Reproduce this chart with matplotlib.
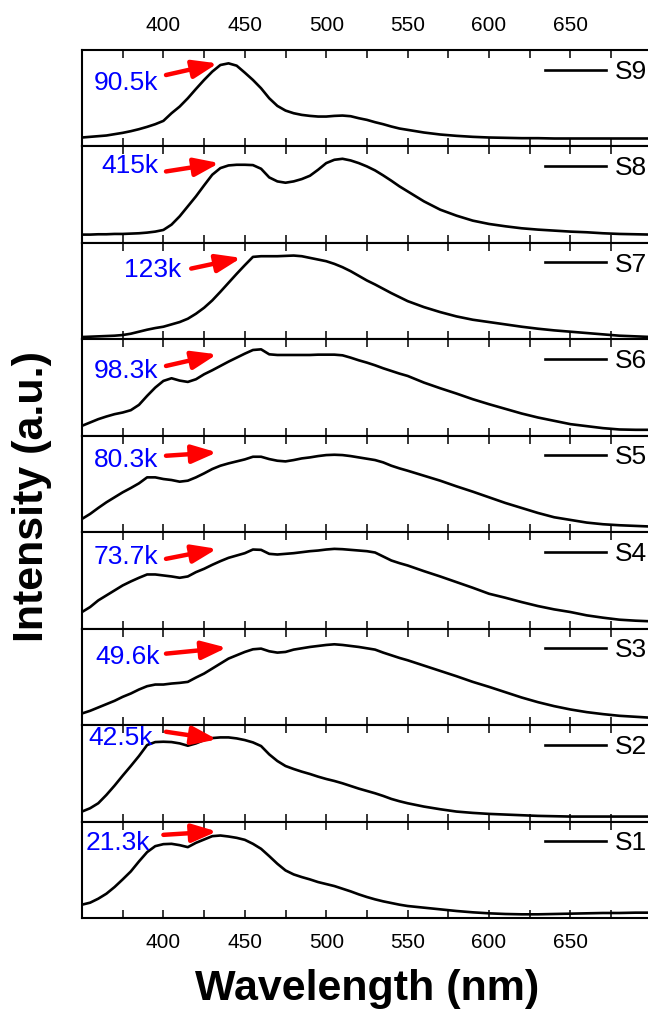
import matplotlib
matplotlib.use("Agg")
import matplotlib.pyplot as plt

plt.rcParams['font.family'] = ['Liberation Sans', 'DejaVu Sans']

# wavelength grid (nm) (arbitrary units)
wl = list(range(350, 551, 5)) + list(range(560, 701, 10))

s9 = [27, 29, 31, 33, 37, 41, 46, 52, 59, 67, 77, 100, 120, 145, 173, 200, 225, 245, 250, 243,
      222, 200, 175, 145, 122, 108, 100, 95, 92, 90, 90, 92, 93, 91, 85, 80, 73, 67, 60, 54, 50,
      42, 36, 32, 29, 27, 26, 25, 25, 24, 24, 24, 24, 24, 24, 24]
s8 = [25, 25, 26, 26, 27, 27, 28, 29, 31, 34, 39, 55, 80, 110, 140, 173, 205, 225, 233, 235,
      235, 234, 223, 197, 185, 181, 185, 192, 202, 220, 240, 250, 253, 248, 240, 230, 218, 203, 187, 170, 155,
      125, 100, 82, 67, 57, 50, 44, 40, 37, 34, 32, 29, 27, 26, 25]
s7 = [7, 8, 9, 10, 11, 13, 17, 23, 29, 34, 38, 45, 52, 62, 77, 95, 117, 143, 170, 197,
      223, 248, 250, 250, 250, 251, 252, 250, 245, 240, 235, 227, 217, 205, 191, 177, 165, 152, 139, 127, 115,
      97, 82, 69, 59, 52, 45, 38, 32, 27, 23, 19, 15, 11, 9, 7]
s6 = [30, 40, 50, 58, 65, 70, 77, 93, 120, 145, 165, 173, 166, 162, 170, 185, 197, 210, 223, 235,
      247, 258, 260, 245, 243, 243, 243, 243, 243, 244, 244, 244, 242, 235, 227, 220, 212, 203, 195, 187, 180,
      160, 143, 127, 110, 95, 81, 67, 55, 45, 35, 29, 23, 19, 18, 18]
s5 = [40, 55, 73, 90, 105, 120, 133, 147, 165, 165, 160, 157, 152, 155, 165, 177, 190, 200, 207, 213,
      219, 227, 227, 220, 215, 213, 217, 222, 225, 229, 232, 233, 232, 229, 225, 221, 217, 210, 200, 192, 185,
      170, 155, 138, 122, 105, 88, 73, 58, 45, 37, 29, 24, 21, 19, 17]
s4 = [50, 65, 85, 100, 115, 130, 142, 153, 163, 163, 160, 157, 153, 157, 170, 180, 192, 203, 213, 220,
      227, 238, 237, 225, 223, 225, 227, 230, 233, 235, 238, 240, 239, 237, 235, 233, 229, 217, 205, 197, 190,
      173, 157, 140, 123, 105, 93, 80, 68, 58, 50, 40, 33, 27, 24, 22]
s3 = [35, 43, 53, 63, 73, 85, 95, 107, 117, 122, 122, 125, 127, 130, 143, 155, 170, 185, 200, 210,
      220, 228, 230, 222, 218, 220, 227, 231, 235, 238, 241, 243, 241, 238, 235, 231, 227, 218, 210, 202, 195,
      179, 163, 147, 130, 115, 99, 83, 69, 57, 47, 39, 33, 28, 25, 22]
s2 = [30, 40, 55, 80, 108, 138, 167, 197, 230, 239, 240, 239, 235, 228, 235, 245, 251, 253, 253, 250,
      245, 238, 227, 202, 182, 167, 158, 150, 143, 135, 128, 122, 115, 107, 99, 92, 85, 77, 68, 61, 55,
      45, 37, 30, 26, 23, 21, 19, 17, 16, 15, 15, 15, 15, 15, 15]
s1 = [40, 46, 58, 73, 93, 116, 140, 170, 198, 216, 222, 223, 219, 213, 226, 236, 246, 248, 245, 241,
      235, 223, 208, 186, 163, 143, 131, 123, 116, 108, 102, 96, 88, 80, 71, 63, 56, 50, 45, 40, 36,
      31, 26, 21, 17, 14, 12, 11, 11, 12, 13, 14, 15, 15, 16, 16]

series = [s9, s8, s7, s6, s5, s4, s3, s2, s1]
names = ['S9', 'S8', 'S7', 'S6', 'S5', 'S4', 'S3', 'S2', 'S1']
peak_labels = ['90.5k', '415k', '123k', '98.3k', '80.3k', '73.7k', '49.6k', '42.5k', '21.3k']

# placement of labels and arrows: x in nm, y as fraction of panel height
text_pos = [(357.3, 0.655), (362.2, 0.793), (376, 0.724), (357.3, 0.672), (357.3, 0.748),
            (357.3, 0.748), (358.2, 0.707), (353.8, 0.862), (352.2, 0.78)]
arrow_tail = [(401.6, 0.741), (401.6, 0.741), (417.1, 0.734), (401.6, 0.724), (401.6, 0.793),
              (401.6, 0.724), (401.6, 0.741), (401.6, 0.931), (400, 0.862)]
arrow_head = [(433.3, 0.862), (434.4, 0.828), (447.8, 0.845), (432.9, 0.845), (432.9, 0.828),
              (432.9, 0.828), (438.9, 0.803), (432.9, 0.852), (432.9, 0.897)]

fig, axes = plt.subplots(9, 1, sharex=True, figsize=(6.48, 10.13), dpi=100)
fig.subplots_adjust(left=0.1265, right=1.006, bottom=0.0938, top=0.9506, hspace=0)

for i, ax in enumerate(axes):
    ax.plot(wl, series[i], color='black', lw=1.9, label=names[i])
    ax.set_xlim(350, 700)
    ax.set_ylim(0, 290)
    ax.set_yticks([])
    ax.set_xticks(range(400, 700, 50))
    ax.set_xticks(range(375, 700, 50), minor=True)
    ax.tick_params(axis='x', which='both', direction='in', top=True, bottom=True,
                   length=6, width=1.1, labelsize=15, pad=11,
                   labelbottom=(i == 8), labeltop=(i == 0))
    for sp in ax.spines.values():
        sp.set_linewidth(1.5)

    tr = ax.get_xaxis_transform()
    ax.text(text_pos[i][0], text_pos[i][1], peak_labels[i], transform=tr,
            color='blue', fontsize=19, ha='left', va='center')
    ax.annotate('', xy=arrow_head[i], xytext=arrow_tail[i], xycoords=tr, textcoords=tr,
                arrowprops=dict(arrowstyle='-|>,head_length=1.5,head_width=0.55',
                                color='red', lw=3.2, mutation_scale=10,
                                shrinkA=0, shrinkB=0))
    ax.legend(loc='center left', bbox_to_anchor=(0.813, 0.775), frameon=False, fontsize=19,
              handlelength=2.3, handletextpad=0.34, borderpad=0, borderaxespad=0)

fig.text(0.567, 0.024, 'Wavelength (nm)', ha='center', va='center', fontsize=31, fontweight='bold')
fig.text(0.05, 0.51, 'Intensity (a.u.)', ha='center', va='center', rotation=90,
         fontsize=31, fontweight='bold')

fig.savefig('out.png', dpi=100)
